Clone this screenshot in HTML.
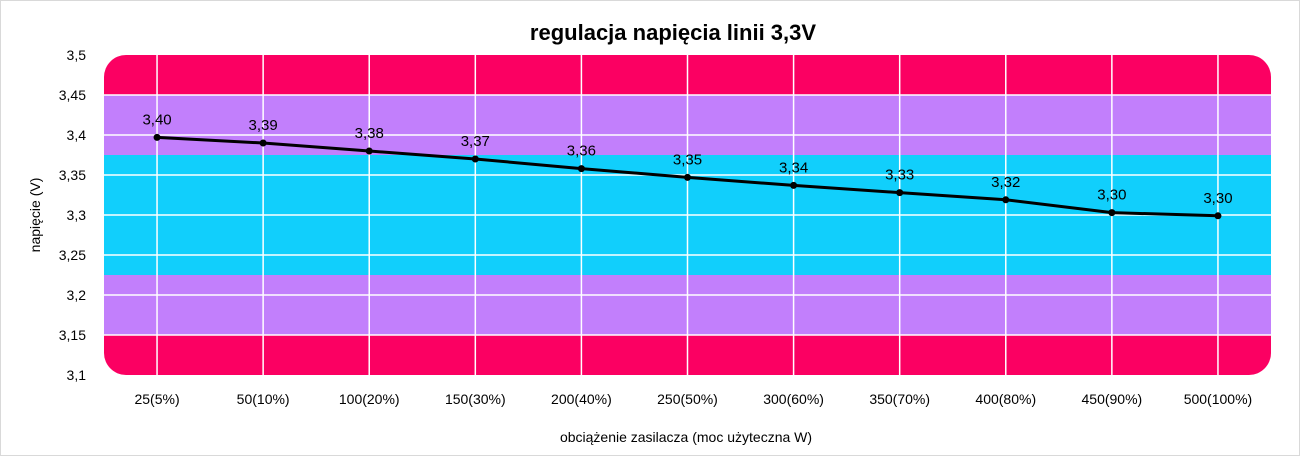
<!DOCTYPE html>
<html><head><meta charset="utf-8"><style>
html,body{margin:0;padding:0;background:#fff;}
body{width:1300px;height:456px;overflow:hidden;font-family:"Liberation Sans",sans-serif;}
</style></head><body>
<svg id="chart" width="1300" height="456" xmlns="http://www.w3.org/2000/svg" font-family="Liberation Sans, sans-serif">
<rect x="0.5" y="0.5" width="1299" height="455" fill="#fff" stroke="#d9d9d9"/>
<text x="673" y="40" text-anchor="middle" font-size="22" font-weight="bold" fill="#000">regulacja napięcia linii 3,3V</text>
<defs><clipPath id="pc"><rect x="104" y="55" width="1167" height="320" rx="22"/></clipPath></defs>
<g id="bands" clip-path="url(#pc)"></g>
<g id="grid"></g>
<g id="yticks"></g>
<g id="xticks"></g>
<path id="line" fill="none" stroke="#000" stroke-width="3"/>
<g id="points"></g>
<text transform="translate(40,215) rotate(-90)" text-anchor="middle" font-size="14" fill="#000">napięcie (V)</text>
<text x="686" y="442" text-anchor="middle" font-size="14" fill="#000">obciążenie zasilacza (moc użyteczna W)</text>
</svg>
<script>
const categories=["25(5%)","50(10%)","100(20%)","150(30%)","200(40%)","250(50%)","300(60%)","350(70%)","400(80%)","450(90%)","500(100%)"];
const values=[3.397,3.390,3.380,3.370,3.358,3.347,3.337,3.328,3.319,3.303,3.299];
const valueLabels=["3,40","3,39","3,38","3,37","3,36","3,35","3,34","3,33","3,32","3,30","3,30"];
const yTicks=[3.1,3.15,3.2,3.25,3.3,3.35,3.4,3.45,3.5];
const yTickLabels=["3,1","3,15","3,2","3,25","3,3","3,35","3,4","3,45","3,5"];
const bandEdges=[3.5,3.45,3.375,3.225,3.15,3.1];
const bandColors=["#fb0062","#c27ffc","#11cffc","#c27ffc","#fb0062"];
const L=104,R=1271,T=55,B=375,ymin=3.1,ymax=3.5;
const NS="http://www.w3.org/2000/svg";
const y=v=>T+(ymax-v)/(ymax-ymin)*(B-T);
const step=(R-L)/categories.length;
const x=i=>L+step*(i+0.5);
function mk(t,a,p){const e=document.createElementNS(NS,t);for(const k in a)e.setAttribute(k,a[k]);p.appendChild(e);return e;}
const bands=document.getElementById('bands');
for(let i=0;i<bandColors.length;i++){
 const r=mk('rect',{x:L,y:y(bandEdges[i]),width:R-L,height:y(bandEdges[i+1])-y(bandEdges[i]),fill:bandColors[i]},bands);
 
 
}
const grid=document.getElementById('grid'),yt=document.getElementById('yticks');
yTicks.forEach((v,i)=>{
 if(v>ymin&&v<ymax){const l=mk('line',{x1:L,x2:R,y1:y(v),y2:y(v),stroke:'#fff','stroke-width':1.5},grid);
 
 }
 const t=mk('text',{x:86,y:y(v)+5,'text-anchor':'end','font-size':14,fill:'#000'},yt);
 t.textContent=yTickLabels[i];
 
 
});
const xt=document.getElementById('xticks'),pts=document.getElementById('points');
let d='';
categories.forEach((c,i)=>{
 const l=mk('line',{x1:x(i),x2:x(i),y1:T,y2:B,stroke:'#fff','stroke-width':1.5},grid);
 
 
 const t=mk('text',{x:x(i),y:404,'text-anchor':'middle','font-size':14,fill:'#000'},xt);
 t.textContent=c;
 
 
 d+=(i?'L':'M')+x(i)+' '+y(values[i]);
 const p=mk('circle',{cx:x(i),cy:y(values[i]),r:3.5,fill:'#000'},pts);
 
 
 const lb=mk('text',{x:x(i),y:y(values[i])-13,'text-anchor':'middle','font-size':15,fill:'#000'},pts);
 lb.textContent=valueLabels[i];
 
 
});
document.getElementById('line').setAttribute('d',d);
</script>
</body></html>
